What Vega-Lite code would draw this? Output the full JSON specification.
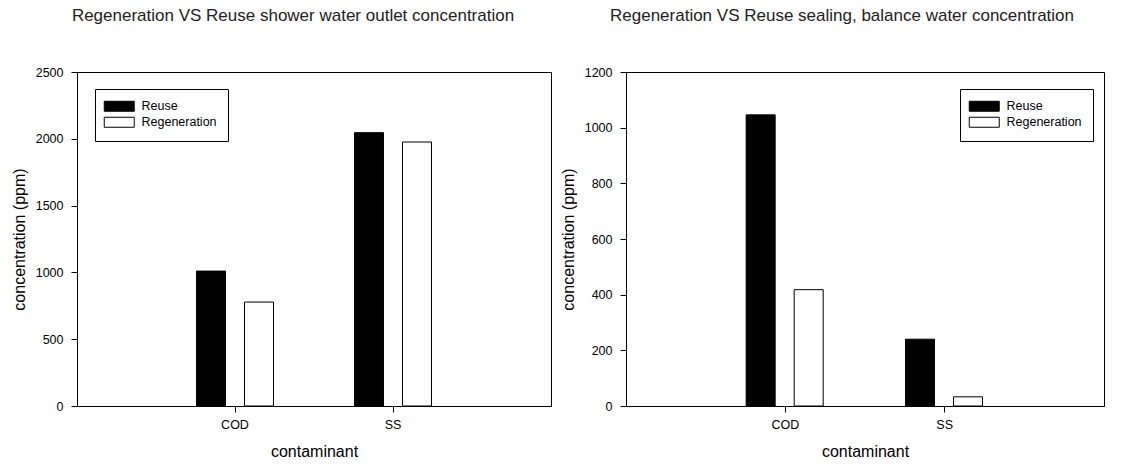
{
  "$schema": "https://vega.github.io/schema/vega-lite/v6.json",
  "background": "white",
  "padding": {"left": 10, "top": 6, "right": 0, "bottom": 0},
  "spacing": 7,
  "config": {
    "font": "Liberation Sans",
    "view": {"stroke": "black", "strokeWidth": 1},
    "axis": {
      "domainColor": "black", "tickColor": "black", "labelColor": "black", "titleColor": "black",
      "grid": false, "labelFontSize": 12.5, "titleFontSize": 16, "titleFontWeight": "normal",
      "tickSize": 6, "labelPadding": 8, "labelFont": "Liberation Sans", "titleFont": "Liberation Sans"
    },
    "axisX": {"labelPadding": 6, "titlePadding": 13},
    "axisY": {"titlePadding": 8},
    "legend": {
      "orient": "none", "direction": "vertical", "title": null,
      "strokeColor": "black", "fillColor": "white", "padding": 11,
      "symbolType": "M-3,-1H3V1H-3Z", "symbolSize": 100, "symbolOffset": 7,
      "symbolStrokeColor": "black", "symbolStrokeWidth": 1,
      "labelFontSize": 12.5, "labelColor": "black", "labelFont": "Liberation Sans",
      "labelOffset": 16, "rowPadding": 1
    },
    "title": {"fontSize": 17, "fontWeight": "normal", "color": "#222222", "font": "Liberation Sans", "offset": 41, "anchor": "middle"}
  },
  "hconcat": [
    {
      "title": {"text": "Regeneration VS Reuse shower water outlet concentration", "dx": -21},
      "width": 474,
      "height": 334,
      "data": {"values": [
        {"contaminant": "COD", "type": "Reuse", "concentration": 1010},
        {"contaminant": "COD", "type": "Regeneration", "concentration": 778},
        {"contaminant": "SS", "type": "Reuse", "concentration": 2046},
        {"contaminant": "SS", "type": "Regeneration", "concentration": 1976}
      ]},
      "mark": {"type": "bar", "stroke": "black", "strokeWidth": 1},
      "encoding": {
        "x": {"field": "contaminant", "type": "nominal", "sort": ["COD", "SS"],
          "scale": {"paddingInner": 0, "paddingOuter": 0.5},
          "axis": {"labelAngle": 0, "title": "contaminant"}},
        "xOffset": {"field": "type", "type": "nominal", "sort": ["Reuse", "Regeneration"],
          "scale": {"paddingInner": 0.396, "paddingOuter": 0.843}},
        "y": {"field": "concentration", "type": "quantitative",
          "scale": {"domain": [0, 2500], "nice": false},
          "axis": {"values": [0, 500, 1000, 1500, 2000, 2500], "format": "d", "title": "concentration (ppm)"}},
        "color": {"field": "type", "type": "nominal", "sort": ["Reuse", "Regeneration"],
          "scale": {"domain": ["Reuse", "Regeneration"], "range": ["black", "white"]},
          "legend": {"legendX": 18, "legendY": 17}}
      }
    },
    {
      "title": {"text": "Regeneration VS Reuse sealing, balance water concentration", "dx": -23},
      "width": 478,
      "height": 334,
      "data": {"values": [
        {"contaminant": "COD", "type": "Reuse", "concentration": 1046},
        {"contaminant": "COD", "type": "Regeneration", "concentration": 418},
        {"contaminant": "SS", "type": "Reuse", "concentration": 240},
        {"contaminant": "SS", "type": "Regeneration", "concentration": 33}
      ]},
      "mark": {"type": "bar", "stroke": "black", "strokeWidth": 1},
      "encoding": {
        "x": {"field": "contaminant", "type": "nominal", "sort": ["COD", "SS"],
          "scale": {"paddingInner": 0, "paddingOuter": 0.5},
          "axis": {"labelAngle": 0, "title": "contaminant"}},
        "xOffset": {"field": "type", "type": "nominal", "sort": ["Reuse", "Regeneration"],
          "scale": {"paddingInner": 0.396, "paddingOuter": 0.843}},
        "y": {"field": "concentration", "type": "quantitative",
          "scale": {"domain": [0, 1200], "nice": false},
          "axis": {"values": [0, 200, 400, 600, 800, 1000, 1200], "format": "d", "title": "concentration (ppm)"}},
        "color": {"field": "type", "type": "nominal", "sort": ["Reuse", "Regeneration"],
          "scale": {"domain": ["Reuse", "Regeneration"], "range": ["black", "white"]},
          "legend": {"legendX": 334, "legendY": 17}}
      }
    }
  ],
  "resolve": {"scale": {"color": "independent", "y": "independent"}, "legend": {"color": "independent"}}
}
